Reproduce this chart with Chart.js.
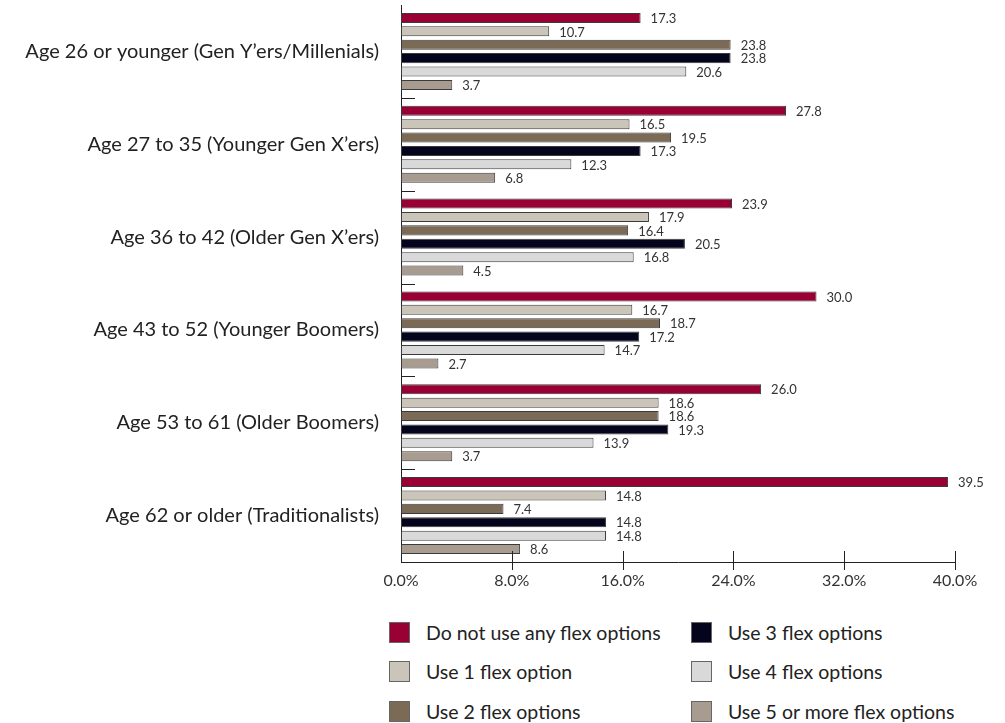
<!DOCTYPE html>
<html>
<head>
<meta charset="utf-8">
<script src="https://cdn.jsdelivr.net/npm/chart.js@4.4.1/dist/chart.umd.min.js"></script>
<style>
  html, body { margin: 0; padding: 0; background: #fff; overflow: hidden; }
  #wrap { position: relative; width: 1005px; height: 723px; overflow: hidden; font-family: Lato, "Open Sans", sans-serif; }
  #c { position: absolute; left: 0; top: 0; }
  .lg { position: absolute; display: flex; align-items: center; font-size: 19.5px; color: #222; white-space: nowrap; height: 21px; }
  .lg span.box { display: inline-block; box-sizing: border-box; width: 21px; height: 21px; border: 1px solid #666; margin-right: 16px; }
</style>
</head>
<body>
<div id="wrap">
  <canvas id="c" width="1005" height="630"></canvas>
  <div id="legend"></div>
</div>
<script>
const categories = [
  "Age 26 or younger (Gen Y\u2019ers/Millenials)",
  "Age 27 to 35 (Younger Gen X\u2019ers)",
  "Age 36 to 42 (Older Gen X\u2019ers)",
  "Age 43 to 52 (Younger Boomers)",
  "Age 53 to 61 (Older Boomers)",
  "Age 62 or older (Traditionalists)"
];
const seriesNames = [
  "Do not use any flex options",
  "Use 1 flex option",
  "Use 2 flex options",
  "Use 3 flex options",
  "Use 4 flex options",
  "Use 5 or more flex options"
];
const noFlex    = [17.3, 27.8, 23.9, 30.0, 26.0, 39.5];
const oneFlex   = [10.7, 16.5, 17.9, 16.7, 18.6, 14.8];
const twoFlex   = [23.8, 19.5, 16.4, 18.7, 18.6, 7.4];
const threeFlex = [23.8, 17.3, 20.5, 17.2, 19.3, 14.8];
const fourFlex  = [20.6, 12.3, 16.8, 14.7, 13.9, 14.8];
const fivePlus  = [3.7, 6.8, 4.5, 2.7, 3.7, 8.6];
const xTicks = [0, 8, 16, 24, 32, 40];

const colors = ["#990033", "#cbc4b8", "#7b6a55", "#04041c", "#d9d9d9", "#a89c90"];
const seriesValues = [noFlex, oneFlex, twoFlex, threeFlex, fourFlex, fivePlus];

const FONT = "Lato, 'Open Sans', sans-serif";
const TARGET_TOP = 5;
const TARGET_BOTTOM = 562;
const X_AXIS_H = 37;

const labelPlugin = {
  id: "valueLabels",
  afterDatasetsDraw(chart) {
    const ctx = chart.ctx;
    ctx.save();
    ctx.font = "13px " + FONT;
    ctx.fillStyle = "#333";
    ctx.textAlign = "left";
    ctx.textBaseline = "middle";
    chart.data.datasets.forEach((ds, i) => {
      const meta = chart.getDatasetMeta(i);
      meta.data.forEach((bar, j) => {
        ctx.fillText(ds.data[j].toFixed(1), bar.x + 10, bar.y + 1);
      });
    });
    ctx.restore();
  }
};

const axisPlugin = {
  id: "axisMarks",
  afterDraw(chart) {
    const ctx = chart.ctx;
    const xs = chart.scales.x, ys = chart.scales.y;
    const area = chart.chartArea;
    ctx.save();
    ctx.strokeStyle = "#222";
    ctx.lineWidth = 1;
    for (let i = 0; i < categories.length - 1; i++) {
      const y = Math.round((ys.getPixelForValue(i) + ys.getPixelForValue(i + 1)) / 2) + 0.5;
      ctx.beginPath();
      ctx.moveTo(area.left, y);
      ctx.lineTo(area.left + 14, y);
      ctx.stroke();
    }
    xTicks.forEach((v) => {
      if (v === 0) return;
      const x = Math.round(xs.getPixelForValue(v)) + 0.5;
      ctx.beginPath();
      ctx.moveTo(x, area.bottom - 11);
      ctx.lineTo(x, area.bottom + 8);
      ctx.stroke();
    });
    ctx.restore();
  }
};

function build(canvas) {
  const datasets = seriesValues.map((vals, i) => ({
    label: seriesNames[i],
    data: vals,
    backgroundColor: colors[i],
    borderColor: "#3b3b3b",
    borderWidth: 1,
    borderSkipped: false,
    categoryPercentage: 0.866,
    barPercentage: 0.75
  }));
  return new Chart(canvas, {
    type: "bar",
    data: { labels: categories, datasets: datasets },
    options: {
      responsive: false,
      animation: false,
      indexAxis: "y",
      layout: { padding: { top: 0, right: 50, left: 0, bottom: 0 } },
      plugins: { legend: { display: false }, tooltip: { enabled: false } },
      scales: {
        x: {
          min: 0, max: 40,
          afterBuildTicks(scale) { scale.ticks = xTicks.map(v => ({ value: v })); },
          afterFit(scale) { scale.height = X_AXIS_H; },
          grid: { display: false, tickLength: 0, drawTicks: false },
          border: { display: true, color: "#222", width: 1 },
          ticks: {
            padding: 9,
            color: "#333",
            font: { family: FONT, size: 16 },
            callback: (v) => Number(v).toFixed(1) + "%",
            maxRotation: 0
          }
        },
        y: {
          afterFit(scale) { scale.width = 401; },
          grid: { display: false },
          border: { display: true, color: "#222", width: 1 },
          ticks: {
            padding: 14,
            color: "#222",
            font: { family: FONT, size: 20 }
          }
        }
      }
    },
    plugins: [labelPlugin, axisPlugin]
  });
}

const canvas = document.getElementById("c");
let chart = build(canvas);
for (let k = 0; k < 2; k++) {
  const t = chart.chartArea.top;
  const b = chart.chartArea.bottom;
  const H = canvas.height;
  const offset = TARGET_TOP - t;
  const needH = Math.round(H + (TARGET_BOTTOM - TARGET_TOP) - (b - t));
  chart.destroy();
  canvas.width = 1005;
  canvas.height = needH;
  canvas.style.top = offset + "px";
  chart = build(canvas);
}
canvas.style.top = (TARGET_TOP - chart.chartArea.top) + "px";

const legendPos = [
  [389, 622], [389, 661], [389, 701],
  [691, 622], [691, 661], [691, 701]
];
const lg = document.getElementById("legend");
seriesNames.forEach((name, i) => {
  const d = document.createElement("div");
  d.className = "lg";
  d.style.left = legendPos[i][0] + "px";
  d.style.top = legendPos[i][1] + "px";
  const b = document.createElement("span");
  b.className = "box";
  b.style.background = colors[i];
  d.appendChild(b);
  d.appendChild(document.createTextNode(name));
  lg.appendChild(d);
});
</script>
</body>
</html>
